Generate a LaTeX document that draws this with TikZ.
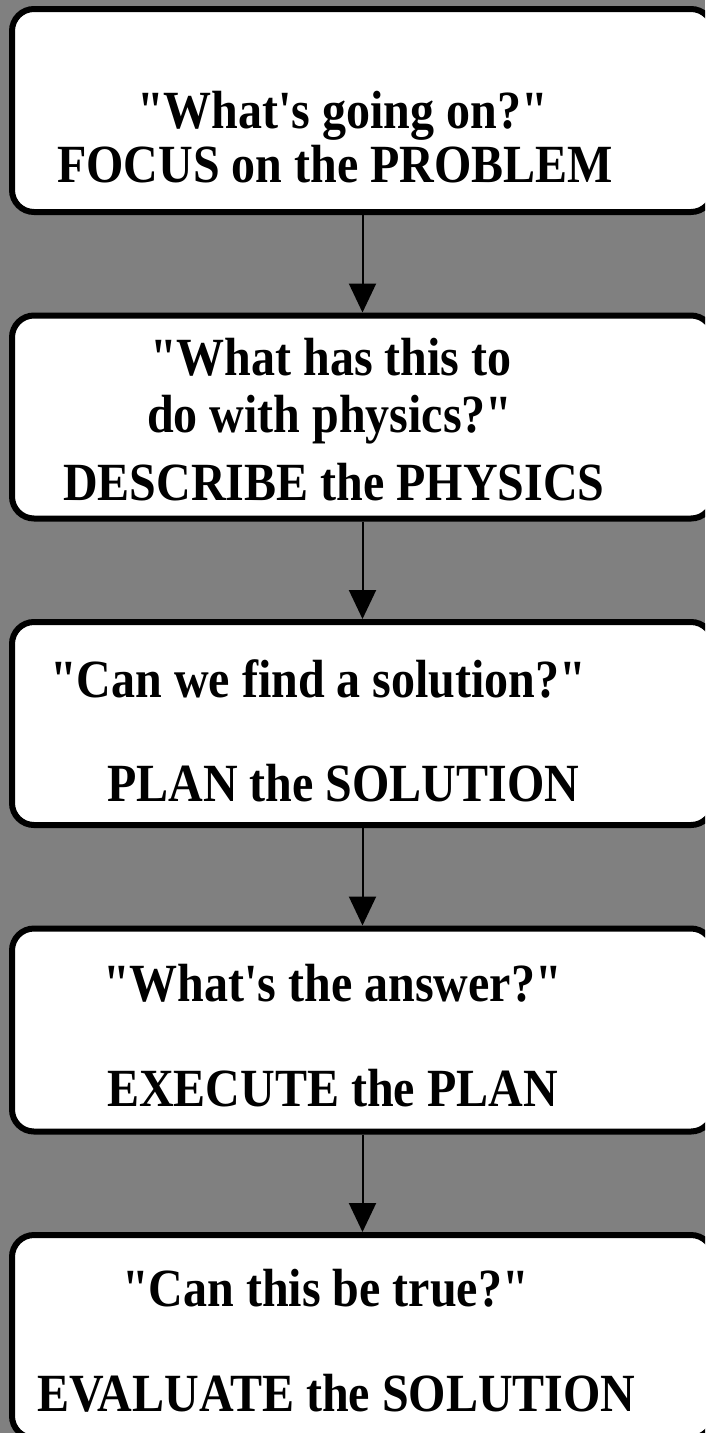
\documentclass[tikz,border=0pt]{standalone}
\usepackage{fontspec}
\usepackage{graphicx}
\newfontfamily\tf{Liberation Serif}
\newcommand\stretchtxt[1]{\scalebox{1}[1.12]{#1}}
\usetikzlibrary{arrows.meta}
\begin{document}
\begin{tikzpicture}[x=1pt,y=-1pt,
  stepbox/.style={draw=black,fill=white,line width=6pt,rounded corners=22pt,
    minimum width=701pt,minimum height=203pt,inner sep=0pt},
  lbl/.style={anchor=base west,inner sep=0pt,font=\tf\bfseries\fontsize{48}{56}\selectfont},
  flow/.style={draw=black,line width=2pt,-{Triangle[width=27pt,length=29pt]}}]
\fill[fill=black!50] (0,0) rectangle (705,1433);
\useasboundingbox (0,0) rectangle (705,1433);
\clip (0,0) rectangle (705,1433);
\node[stepbox] (b1) at (362.5,110.5) {};
\node[stepbox] (b2) at (362.5,417) {};
\node[stepbox] (b3) at (362.5,723.5) {};
\node[stepbox] (b4) at (362.5,1030) {};
\node[stepbox] (b5) at (362.5,1336.5) {};
\draw[flow] (b1.south) -- (b2.north);
\draw[flow] (b2.south) -- (b3.north);
\draw[flow] (b3.south) -- (b4.north);
\draw[flow] (b4.south) -- (b5.north);
\node[lbl] (t1a) at (137,128) {\stretchtxt{"What's going on?"}};
\node[lbl] (t1b) at (57,182) {\stretchtxt{FOCUS on the PROBLEM}};
\node[lbl] (t2a) at (150,375) {\stretchtxt{"What has this to}};
\node[lbl] (t2b) at (147,432) {\stretchtxt{do with physics?"}};
\node[lbl] (t2c) at (63,500) {\stretchtxt{DESCRIBE the PHYSICS}};
\node[lbl] (t3a) at (50,697) {\stretchtxt{"Can we find a solution?"}};
\node[lbl] (t3b) at (107,801) {\stretchtxt{PLAN the SOLUTION}};
\node[lbl] (t4a) at (103,1001) {\stretchtxt{"What's the answer?"}};
\node[lbl] (t4b) at (107,1106) {\stretchtxt{EXECUTE the PLAN}};
\node[lbl] (t5a) at (122,1306) {\stretchtxt{"Can this be true?"}};
\node[lbl] (t5b) at (37,1411) {\stretchtxt{EVALUATE the SOLUTION}};
\end{tikzpicture}
\end{document}
